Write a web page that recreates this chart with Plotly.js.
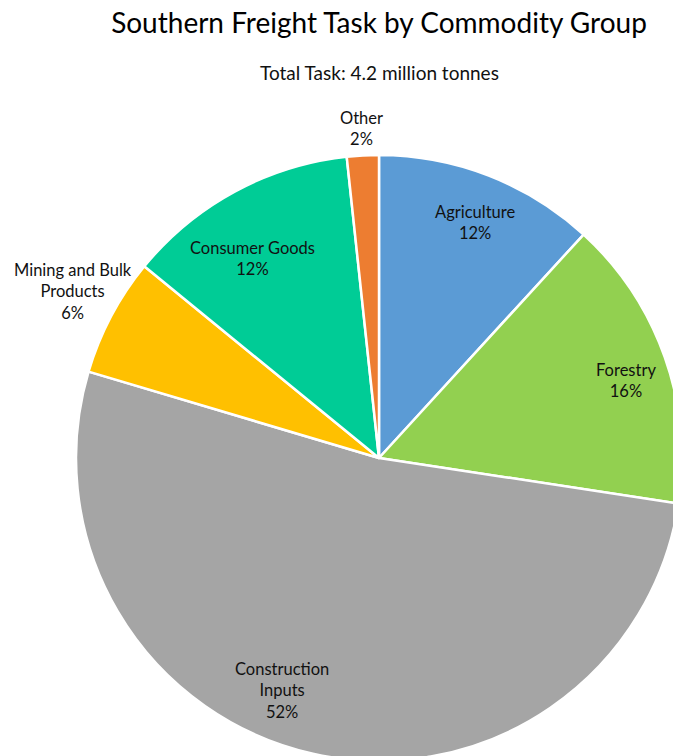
<!DOCTYPE html>
<html>
<head>
<meta charset="utf-8">
<script src="https://cdn.plot.ly/plotly-3.0.1.min.js"></script>
<style>
html,body{margin:0;padding:0;overflow:hidden;background:#fff;width:673px;height:756px;}
#chart{width:720px;height:790px;}
</style>
</head>
<body>
<div id="chart"></div>
<script>
// ---- data ----
var categories = ["Agriculture", "Forestry", "Construction Inputs", "Mining and Bulk Products", "Consumer Goods", "Other"];
var labelText = ["Agriculture", "Forestry", "Construction<br>Inputs", "Mining and Bulk<br>Products", "Consumer Goods", "Other"];
var shares = [11.8, 15.6, 52.2, 6.3, 12.4, 1.7];
var colors = ["#5B9BD5", "#92D050", "#A5A5A5", "#FFC000", "#00CC96", "#ED7D31"];
var titleText = "Southern Freight Task by Commodity Group";
var subtitleText = "Total Task: 4.2 million tonnes";

// ---- layout constants (pixels) ----
var W = 720, H = 790;
var cx = 379, cy = 458, R = 303;
// label placement style: radius factor and angular tweak (deg) per slice
var labelR = [0.84, 0.855, 0.83, 1.15, 0.78, 1.09];
var labelDA = [1, 2, 10, 0.7, -4, 0];
var FONT = "Lato, 'Open Sans', sans-serif";

var total = shares.reduce(function(a,b){return a+b;},0);
var annotations = [];
var cum = 0;
for (var i = 0; i < shares.length; i++) {
  var mid = (cum + shares[i]/2) / total * 360 + labelDA[i];
  cum += shares[i];
  var a = mid * Math.PI / 180;
  var px = cx + R * labelR[i] * Math.sin(a);
  var py = cy - R * labelR[i] * Math.cos(a);
  var pct = Math.round(shares[i] / total * 100) + "%";
  annotations.push({
    xref: "paper", yref: "paper", x: px / W, y: 1 - py / H,
    xanchor: "center", yanchor: "middle", showarrow: false, align: "center",
    text: labelText[i] + "<br>" + pct,
    font: {family: FONT, size: 16.5, color: "#111"}
  });
}
annotations.push({
  xref: "paper", yref: "paper", x: 379 / W, y: 1 - 72 / H,
  xanchor: "center", yanchor: "middle", showarrow: false,
  text: subtitleText, font: {family: FONT, size: 19, color: "#111"}
});

var trace = {
  type: "pie",
  labels: categories,
  values: shares,
  sort: false,
  direction: "clockwise",
  rotation: 0,
  textinfo: "none",
  hoverinfo: "label+percent",
  marker: {colors: colors, line: {color: "#ffffff", width: 2.5}},
  domain: {x: [(cx - R) / W, (cx + R) / W], y: [(H - cy - R) / H, (H - cy + R) / H]},
  showlegend: false
};

var layout = {
  width: W, height: H,
  margin: {l: 0, r: 0, t: 0, b: 0},
  paper_bgcolor: "#fff",
  title: {
    text: titleText,
    font: {family: FONT, size: 28, color: "#000"},
    x: 379 / W, xanchor: "center", xref: "paper",
    y: 1 - 23 / H, yanchor: "middle", yref: "container"
  },
  annotations: annotations,
  showlegend: false
};

Plotly.newPlot("chart", [trace], layout, {displayModeBar: false, staticPlot: true});
</script>
</body>
</html>
